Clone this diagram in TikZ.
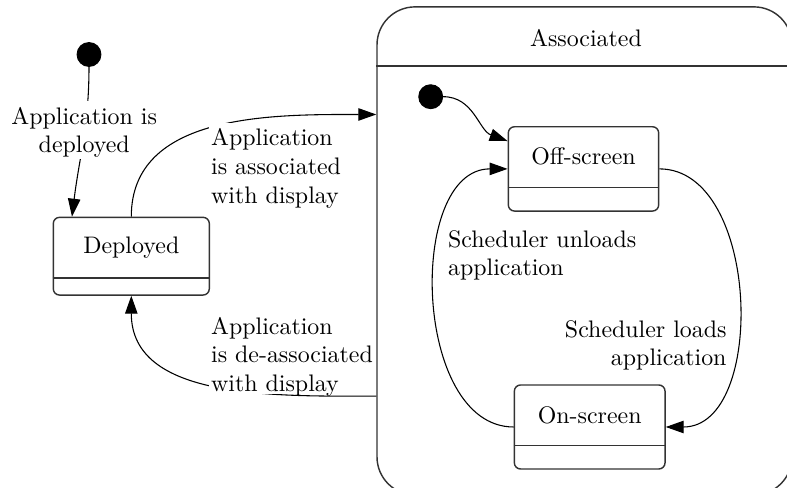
\documentclass[tikz,border=0pt]{standalone}
\usetikzlibrary{arrows.meta,calc}
\def\pxu{0.4184pt}
\begin{document}
\begin{tikzpicture}[x=\pxu, y=\pxu,
  box/.style={draw=black!80, line width=0.6pt},
  state/.style={box, rounded corners=2.6pt, inner sep=0pt},
  divider/.style={draw=black!80, line width=0.6pt},
  initial/.style={circle, fill=black, draw=black, minimum size=10pt, inner sep=0pt},
  trans/.style={-{Triangle[length=7.5pt,width=5.2pt]}, line width=0.45pt},
  lbl/.style={fill=white, inner xsep=1pt, inner ysep=2.5pt, text depth=0pt}]

  % canvas
  \clip (0,0) rectangle (787,-488);

  % composite state
  \node[box, rounded corners=15.9pt, minimum width=415*\pxu, minimum height=488*\pxu, inner sep=0pt]
    (assoc) at (584.5,-250.9) {};
  \node (assoctitle) at (586,-38) {Associated};
  \draw[divider] ($(assoc.north west)+(0,-60)$) -- ($(assoc.north east)+(0,-60)$);

  % simple states
  \node[state, minimum width=156*\pxu, minimum height=77.7*\pxu] (dep) at (131.3,-256.2) {};
  \node (depname) at (131.3,-247.3) {Deployed};
  \draw[divider] ($(dep.south west)+(0,17.7)$) -- ($(dep.south east)+(0,17.7)$);

  \node[state, minimum width=150.4*\pxu, minimum height=84.3*\pxu] (off) at (583.5,-168.9) {};
  \node (offname) at (583.5,-156.7) {Off-screen};
  \draw[divider] ($(off.south west)+(0,24.3)$) -- ($(off.south east)+(0,24.3)$);

  \node[state, minimum width=150.7*\pxu, minimum height=84*\pxu] (on) at (589.7,-427) {};
  \node (onname) at (589.7,-415) {On-screen};
  \draw[divider] ($(on.south west)+(0,24)$) -- ($(on.south east)+(0,24)$);

  % initial pseudo-states
  \node[initial] (s0) at (89,-54.5) {};
  \node[initial] (s1) at (430.7,-96.7) {};

  % transitions
  \draw[trans] (s0) to[out=-90, in=83] ($(dep.north west)+(19.4,0)$);
  \node[lbl, align=center, anchor=north] (l0) at (84.2,-100.7) {Application is\\deployed};

  \draw[trans] (dep.north) to[out=90, in=180] ($(assoc.north west)+(0,-108.3)$);
  \node[lbl, align=left, anchor=north west] (l1) at (208.3,-122.3) {Application\\is associated\\with display};

  \draw[trans] ($(assoc.north west)+(0,-390)$) to[out=180, in=-90] (dep.south);
  \node[lbl, inner ysep=1pt, align=left, anchor=north west] (l2) at (208.3,-314.3) {Application\\is de-associated\\with display};

  \draw[trans] (s1) to[out=0, in=160] ($(off.north west)+(0,-15)$);

  \draw[trans] (off.east) to[out=0, in=0] (on.east);
  \node[lbl, align=right, anchor=north east] (l3) at (729.4,-314) {Scheduler loads\\application};

  \draw[trans] (on.west) to[out=180, in=180] (off.west);
  \node[lbl, align=left, anchor=north west] (l4) at (445.3,-224) {Scheduler unloads\\application};
\end{tikzpicture}
\end{document}
